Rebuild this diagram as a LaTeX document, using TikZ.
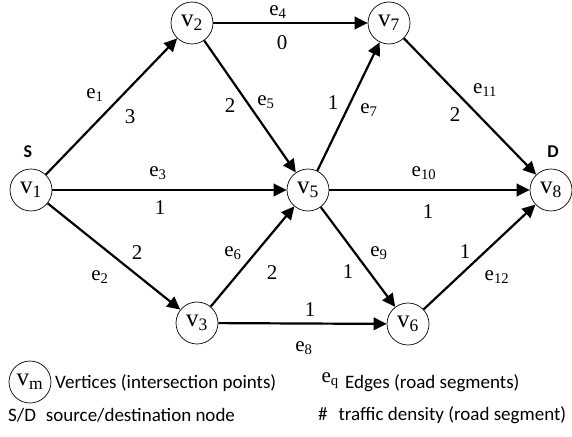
\documentclass[tikz,border=0pt]{standalone}
\usepackage{fontspec}
\setmainfont{Liberation Serif}
\newfontfamily\legendfont{Carlito}
\usetikzlibrary{arrows.meta}
\newcommand{\lbl}[2]{#1\textsubscript{#2}}
\begin{document}
\begin{tikzpicture}[x=1pt,y=-1pt,
  vertex/.style={circle,draw,line width=0.7pt,minimum size=42pt,inner sep=0pt,
    font=\fontsize{25}{25}\selectfont},
  road/.style={line width=2.2pt,-{Triangle[length=13pt,width=12.5pt]}},
  tag/.style={font=\fontsize{21}{21}\selectfont,inner sep=0pt},
  endpoint/.style={font=\legendfont\bfseries\fontsize{18}{18}\selectfont,inner sep=0pt},
  legend/.style={font=\legendfont\fontsize{19}{19}\selectfont,inner sep=0pt,anchor=west}]
\useasboundingbox (0,0) rectangle (572,436);

% vertices
\node[vertex] (v1) at (31,190)  {\lbl{v}{1}};
\node[vertex] (v2) at (192,23)  {\lbl{v}{2}};
\node[vertex] (v7) at (389,23)  {\lbl{v}{7}};
\node[vertex] (v5) at (308,190) {\lbl{v}{5}};
\node[vertex] (v8) at (551,190) {\lbl{v}{8}};
\node[vertex] (v3) at (197,323) {\lbl{v}{3}};
\node[vertex] (v6) at (408,324) {\lbl{v}{6}};

% source / destination marks
\node[endpoint] (src) at (28,152) {S};
\node[endpoint] (dst) at (553,152) {D};

% road segments
\draw[road] (v1) -- (v2);
\draw[road] (v1) -- (v3);
\draw[road] (v1) -- (v5);
\draw[road] (v2) -- (v7);
\draw[road] (v2) -- (v5);
\draw[road] (v3) -- (v5);
\draw[road] (v5) -- (v7);
\draw[road] (v3) -- (v6);
\draw[road] (v5) -- (v6);
\draw[road] (v5) -- (v8);
\draw[road] (v7) -- (v8);
\draw[road] (v6) -- (v8);

% edge names
\node[tag] (le1)  at (95,95)   {\lbl{e}{1}};
\node[tag] (le2)  at (100,277) {\lbl{e}{2}};
\node[tag] (le3)  at (158,173) {\lbl{e}{3}};
\node[tag] (le4)  at (278,12)  {\lbl{e}{4}};
\node[tag] (le5)  at (266,102) {\lbl{e}{5}};
\node[tag] (le6)  at (233,253) {\lbl{e}{6}};
\node[tag] (le7)  at (369,110) {\lbl{e}{7}};
\node[tag] (le8)  at (304,348) {\lbl{e}{8}};
\node[tag] (le9)  at (379,253) {\lbl{e}{9}};
\node[tag] (le10) at (424,173) {\lbl{e}{10}};
\node[tag] (le11) at (485,90)  {\lbl{e}{11}};
\node[tag] (le12) at (497,277) {\lbl{e}{12}};

% traffic densities
\node[tag] (d1)  at (130,117) {3};
\node[tag] (d2)  at (137,253) {2};
\node[tag] (d3)  at (160,208) {1};
\node[tag] (d4)  at (282,43)  {0};
\node[tag] (d5)  at (230,106) {2};
\node[tag] (d6)  at (272,273) {2};
\node[tag] (d7)  at (333,103) {1};
\node[tag] (d8)  at (310,310) {1};
\node[tag] (d9)  at (348,272) {1};
\node[tag] (d10) at (428,212) {1};
\node[tag] (d11) at (455,115) {2};
\node[tag] (d12) at (465,252) {1};

% legend
\node[vertex] (key) at (30,382) {\lbl{v}{m}};
\node[legend] (keyv) at (55,383) {Vertices (intersection points)};
\node[tag,anchor=east] (keye) at (339,381) {\lbl{e}{q}};
\node[legend] (keyet) at (345,383) {Edges (road segments)};
\node[legend] (keys) at (8,415) {S/D\hspace{0.3em} source/destination node};
\node[legend] (keyd) at (318,415) {\#\hspace{0.35em} traffic density (road segment)};
\end{tikzpicture}
\end{document}
